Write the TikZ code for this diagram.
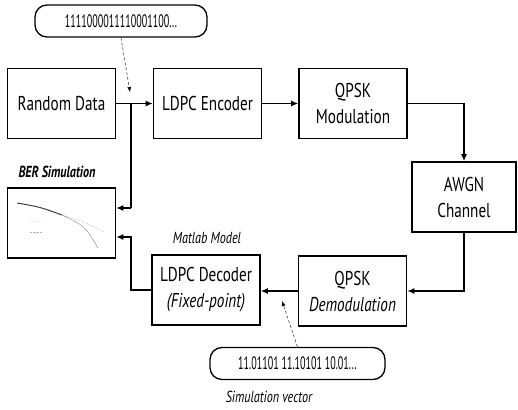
\documentclass[tikz,border=0pt]{standalone}
\usepackage{fontspec}
\setmainfont[FakeStretch=0.76]{PT Sans}
\newfontfamily\bitfont[FakeStretch=0.56]{PT Sans}
\usetikzlibrary{arrows.meta}
\tikzstyle{block}=[rectangle,draw,line width=1.6pt,minimum width=108pt,minimum height=70pt,align=center,font=\fontsize{20}{26}\selectfont]
\tikzstyle{bubble}=[rectangle,rounded corners=12pt,draw,line width=1.3pt,minimum height=32pt,font=\bitfont\fontsize{18}{20}\selectfont]
\tikzstyle{flow}=[line width=1.3pt,-{Latex[length=7pt,width=6pt]}]
\tikzstyle{hint}=[densely dashed,thin,-{Latex[length=5pt,width=4pt]}]
\tikzstyle{caption}=[font=\itshape\fontsize{16}{18}\selectfont]

\begin{document}
\begin{tikzpicture}[x=1pt,y=-1pt]
\useasboundingbox (0,0) rectangle (518,409);
\node (bits) at (121,21)[bubble,minimum width=172pt] {1111000011110001100...};
\node (rnd) at (61.5,103.5)[block] {Random Data};
\node (enc) at (207.5,103.5)[block] {LDPC Encoder};
\node (mod) at (353,103.5)[block] {QPSK\\Modulation};
\node (awgn) at (464,197)[block,minimum width=104pt] {AWGN\\Channel};
\node (dem) at (352.5,291)[block] {QPSK\\\textit{Demodulation}};
\node (dec) at (206,290)[block] {LDPC Decoder\\\textit{(Fixed-point)}};
\node (ber) at (61.5,223)[block] {};
\node (vec) at (297.5,363.5)[bubble,minimum width=175pt] {11.01101 11.10101 10.01...};
\node (bertitle) at (57,172)[caption,font=\bfseries\itshape\fontsize{16}{18}\selectfont] {BER Simulation};
\node (model) at (207,238)[caption] {Matlab Model};
\node (vectitle) at (269,397)[caption] {Simulation vector};

\draw[line width=1pt,gray!50!black] (17,203) .. controls (40,207) .. (62,215);
\draw[densely dotted,gray] (62,215) .. controls (85,222) .. (104,232);
\draw[gray] (62,215) .. controls (85,226) .. (98,248);
\draw[densely dotted,gray!60] (30,221) -- (45,222);
\draw[densely dotted,gray!60] (30,232) -- (42,232);

\coordinate (split) at (131,103.5);
\coordinate (tap) at (131,208);
\coordinate (ret) at (131,237);
\coordinate (tip1) at (130,92);
\coordinate (tip2) at (282,301);

\draw[flow] (rnd) -- (enc);
\draw[flow] (enc) -- (mod);
\draw[flow] (mod.east) -| (awgn.north);
\draw[flow] (awgn.south) |- (dem.east);
\draw[flow] (dem.west) -- (dec.east |- dem.west);
\draw[line width=1.3pt] (split) -- (tap);
\draw[flow] (tap) -- (ber.east |- tap);
\draw[flow] (dec.west) -| (ret) -- (ber.east |- ret);
\draw[hint] (bits.south) -- (tip1);
\draw[hint] (vec.north) -- (tip2);
\end{tikzpicture}
\end{document}
